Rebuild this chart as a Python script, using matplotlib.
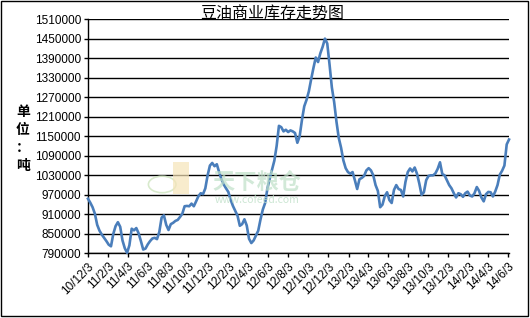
import matplotlib
matplotlib.use("Agg")
import matplotlib.pyplot as plt
from matplotlib.patches import Rectangle, Circle
import pandas as pd
import datetime as dt

plt.rcParams['font.family'] = ['Noto Sans CJK SC', 'DejaVu Sans']

# weekly soybean oil commercial stocks (tonnes)
start = "2010-12-03"
stock = [
    958000, 946000, 932000, 912000, 878000, 860000, 848000, 838000, 828000, 817000,
    812000, 850000, 874000, 886000, 872000, 830000, 806000, 792000, 815000, 866000,
    861000, 868000, 852000, 828000, 802000, 805000, 818000, 828000, 836000, 838000,
    834000, 856000, 900000, 907000, 878000, 862000, 880000, 884000, 890000, 893000,
    902000, 912000, 935000, 936000, 935000, 943000, 935000, 950000, 966000, 975000,
    972000, 990000, 1030000, 1060000, 1068000, 1058000, 1064000, 1040000, 1018000, 1002000,
    990000, 979000, 955000, 936000, 921000, 906000, 875000, 880000, 895000, 876000,
    835000, 822000, 830000, 845000, 860000, 895000, 925000, 945000, 990000, 1020000,
    1048000, 1075000, 1120000, 1182000, 1178000, 1165000, 1170000, 1163000, 1168000, 1165000,
    1160000, 1130000, 1150000, 1200000, 1242000, 1262000, 1288000, 1325000, 1360000, 1392000,
    1378000, 1405000, 1425000, 1450000, 1435000, 1370000, 1300000, 1255000, 1195000, 1145000,
    1115000, 1076000, 1052000, 1040000, 1035000, 1040000, 1015000, 988000, 1018000, 1022000,
    1028000, 1045000, 1052000, 1045000, 1030000, 1000000, 982000, 932000, 940000, 966000,
    978000, 954000, 945000, 985000, 1000000, 988000, 985000, 965000, 1010000, 1040000,
    1051000, 1042000, 1054000, 1035000, 1005000, 970000, 978000, 1015000, 1028000, 1030000,
    1030000, 1036000, 1050000, 1070000, 1034000, 1030000, 1015000, 1000000, 990000, 975000,
    962000, 975000, 972000, 964000, 975000, 980000, 968000, 965000, 975000, 994000,
    982000, 962000, 950000, 972000, 979000, 978000, 965000, 980000, 1000000, 1032000,
    1044000, 1060000, 1125000, 1140000,
]
dates = pd.date_range(start, periods=len(stock), freq="7D")

tick_dates = [dt.datetime(2010, 12, 3)] + [dt.datetime(y, m, 3) for y in (2011, 2012, 2013) for m in (2, 4, 6, 8, 10, 12)] \
    + [dt.datetime(2014, m, 3) for m in (2, 4, 6)]
tick_labels = ["%d/%d/%d" % (d.year % 100, d.month, d.day) for d in tick_dates]
y_ticks = list(range(790000, 1510001, 60000))

fig = plt.figure(figsize=(5.3, 3.18), dpi=100)
ax = fig.add_axes([0.166, 0.203, 0.7944, 0.737])

ax.plot(dates, stock, color="#4a7ebb", lw=1.9, clip_on=False, zorder=3)

ax.set_ylim(790000, 1510000)
ax.set_yticks(y_ticks)
ax.set_yticklabels([str(v) for v in y_ticks], family="Liberation Sans", fontsize=8.5)
ax.set_xlim(dates[0], dates[-1])
ax.set_xticks(tick_dates)
ax.set_xticklabels(tick_labels, family="Liberation Sans", fontsize=8.5, rotation=45,
                   ha="right", va="top", rotation_mode="anchor")

ax.grid(axis="y", color="black", lw=1)
ax.set_axisbelow(True)
for s in ("top", "right"):
    ax.spines[s].set_visible(False)
ax.spines["left"].set_linewidth(1)
ax.spines["bottom"].set_linewidth(1)
ax.tick_params(length=3, width=1, pad=2)

# faint watermark
fig.text(0.485, 0.424, "天下粮仓", ha="center", va="center", fontsize=16,
         fontweight="bold", color="#bfe0c8", alpha=0.7, zorder=1)
fig.text(0.485, 0.37, "www.cofeed.com", ha="center", va="center", fontsize=7.5,
         color="#bfe0c8", alpha=0.8, zorder=1)
fig.patches.append(Circle((0.306, 0.42), 0.026, transform=fig.transFigure,
                          fill=False, ec="#cfe5c0", lw=1.2, alpha=0.8))
fig.patches.append(Rectangle((0.326, 0.39), 0.03, 0.1, transform=fig.transFigure,
                             fc="#f6e4b8", ec="none", alpha=0.7))

fig.text(0.513, 0.956, "豆油商业库存走势图", ha="center", va="center", fontsize=11.5)
fig.text(0.043, 0.563, "单\n位\n：\n吨", ha="center", va="center", fontsize=10,
         fontweight="bold", linespacing=1.35)

fig.patches.append(Rectangle((0.002, 0.006), 0.994, 0.99, transform=fig.transFigure,
                             fill=False, ec="black", lw=1))

fig.savefig("out.png", dpi=100)
